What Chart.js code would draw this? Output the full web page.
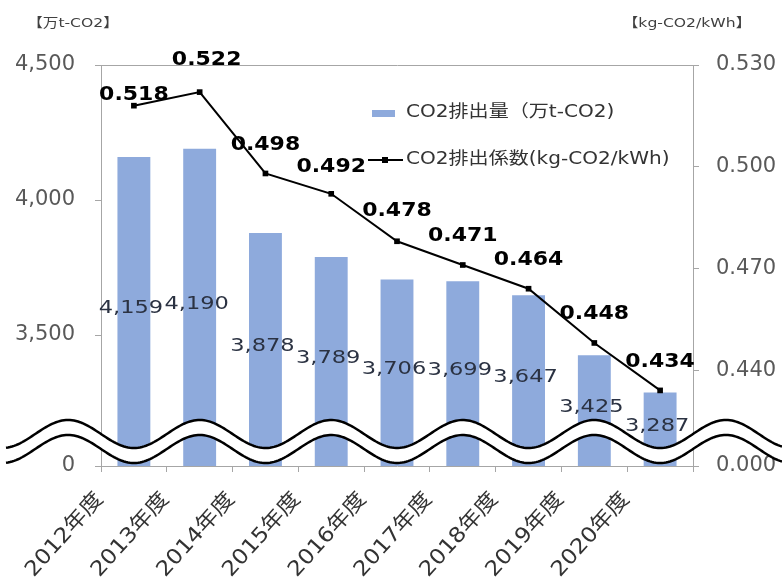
<!DOCTYPE html>
<html>
<head>
<meta charset="utf-8">
<script src="https://cdn.jsdelivr.net/npm/chart.js@4"></script>
<style>
  body { margin: 0; background: #fff; }
</style>
</head>
<body>
<canvas id="chart" width="782" height="582"></canvas>
<script>
// data
const categories = ['2012年度', '2013年度', '2014年度', '2015年度', '2016年度', '2017年度', '2018年度', '2019年度', '2020年度'];
const emissions = [4159, 4190, 3878, 3789, 3706, 3699, 3647, 3425, 3287];
const factors = [0.518, 0.522, 0.498, 0.492, 0.478, 0.471, 0.464, 0.448, 0.434];
const leftTicks = [3500, 4000, 4500];
const rightTicks = [0.440, 0.470, 0.500, 0.530];
// axis break: the bottom of each axis is labelled as zero
const leftBreakMin = 3015;
const rightBreakMin = 0.4117;

const FAMILY = '"DejaVu Sans", "Noto Sans CJK JP", sans-serif';
const AXIS = '#A6A6A6';
const BAR = '#8EAADC';

function drawText(ctx, txt, x, y, font, color, align, sx, rot) {
    ctx.save();
    ctx.translate(x, y);
    if (rot) ctx.rotate(rot);
    ctx.scale(sx, 1);
    ctx.font = font;
    ctx.fillStyle = color;
    ctx.textAlign = align;
    ctx.textBaseline = 'middle';
    ctx.fillText(txt, 0, 0);
    ctx.restore();
}

// label nudges for the line values (first two sit differently)
const lineLabelDx = [0, 7, 0, 0, 0, 0, 0, 0, 0];
const lineLabelDy = [-11, -32, -29, -27, -30, -29, -29, -29, -29];

const overlay = {
    id: 'overlay',
    afterDatasetsDraw(chart) {
        // wavy break band
        const { ctx, chartArea, scales } = chart;
        const x0 = scales.x.getPixelForValue(0);
        const period = (scales.x.getPixelForValue(1) - x0) * 2;
        const wy = (x, c) => c + 14 * Math.cos(2 * Math.PI * (x - x0) / period);
        const up = chartArea.bottom - 32, lo = chartArea.bottom - 17;
        ctx.save();
        ctx.beginPath();
        for (let x = 6; x <= 782; x += 2) ctx.lineTo(x, wy(x, up));
        for (let x = 782; x >= 6; x -= 2) ctx.lineTo(x, wy(x, lo));
        ctx.closePath();
        ctx.fillStyle = '#fff';
        ctx.fill();
        ctx.lineWidth = 2.5;
        ctx.strokeStyle = '#000';
        [up, lo].forEach(c => {
            ctx.beginPath();
            for (let x = 6; x <= 782; x += 2) ctx.lineTo(x, wy(x, c));
            ctx.stroke();
        });
        ctx.restore();
    },
    afterDraw(chart) {
        const ctx = chart.ctx;
        const xs = chart.scales.x;
        const yL = chart.scales.yLeft;
        const base = yL.getPixelForValue(leftBreakMin);
        // category labels, slanted
        categories.forEach((c, i) => {
            drawText(ctx, c, xs.getPixelForValue(i) - 34, chart.chartArea.bottom + 30,
                '21px ' + FAMILY, '#333', 'right', 1.1, -48 * Math.PI / 180);
        });
        // bar value labels, centred in the bar
        emissions.forEach((v, i) => {
            const top = yL.getPixelForValue(v);
            drawText(ctx, v.toLocaleString('en-US'), xs.getPixelForValue(i) - 3, (top + base) / 2 - 3,
                '18px ' + FAMILY, '#2B3242', 'center', 1.25);
        });
        // line value labels
        const pts = chart.getDatasetMeta(0).data;
        pts.forEach((p, i) => {
            drawText(ctx, factors[i].toFixed(3), p.x + lineLabelDx[i], p.y + lineLabelDy[i],
                'bold 20px ' + FAMILY, '#000', 'center', 1.1);
        });
        // legend
        const legFont = '17px ' + FAMILY;
        ctx.fillStyle = BAR;
        ctx.fillRect(372, 110, 23, 7);
        drawText(ctx, chart.data.datasets[1].label, 406, 113, legFont, '#333', 'left', 1.18);
        ctx.save();
        ctx.strokeStyle = '#000';
        ctx.lineWidth = 2;
        ctx.beginPath();
        ctx.moveTo(368, 160);
        ctx.lineTo(403, 160);
        ctx.stroke();
        ctx.fillStyle = '#000';
        ctx.fillRect(382, 157, 6, 6);
        ctx.restore();
        drawText(ctx, chart.data.datasets[0].label, 406, 160, legFont, '#333', 'left', 1.18);
        // axis unit titles
        drawText(ctx, '【万t-CO2】', 73, 24, '13px ' + FAMILY, '#404040', 'center', 1.2);
        drawText(ctx, '【kg-CO2/kWh】', 687, 24, '13px ' + FAMILY, '#404040', 'center', 1.2);
    }
};

const ctx = document.getElementById('chart').getContext('2d');

new Chart(ctx, {
    type: 'bar',
    data: {
        labels: categories,
        datasets: [{
            type: 'line',
            label: 'CO2排出係数(kg-CO2/kWh)',
            data: factors,
            yAxisID: 'yRight',
            borderColor: '#000',
            backgroundColor: '#000',
            borderWidth: 2,
            pointStyle: 'rect',
            pointRadius: 4,
            pointBackgroundColor: '#000',
            pointBorderWidth: 0,
            tension: 0,
            order: 0
        }, {
            label: 'CO2排出量（万t-CO2)',
            data: emissions,
            yAxisID: 'yLeft',
            backgroundColor: BAR,
            categoryPercentage: 1,
            barPercentage: 0.5,
            order: 1
        }]
    },
    options: {
        responsive: false,
        animation: false,
        layout: { padding: { top: 65, left: 0, right: 0, bottom: 0 } },
        plugins: {
            legend: { display: false },
            tooltip: { enabled: false }
        },
        scales: {
            x: {
                grid: { drawOnChartArea: false, tickColor: AXIS, tickLength: 6, offset: true },
                border: { color: AXIS, width: 1 },
                ticks: { display: false },
                afterFit(s) { s.height = 116; }
            },
            yLeft: {
                position: 'left',
                min: leftBreakMin,
                max: 4500,
                afterBuildTicks(s) {
                    s.ticks = [leftBreakMin, ...leftTicks].map(v => ({ value: v }));
                },
                ticks: {
                    padding: 20,
                    color: '#595959',
                    font: { family: FAMILY, size: 21 },
                    callback: v => v === leftBreakMin ? '0' : v.toLocaleString('en-US')
                },
                grid: {
                    color: c => (c.tick && c.tick.value === 4500) ? AXIS : 'rgba(0,0,0,0)',
                    tickColor: AXIS,
                    tickLength: 6
                },
                border: { color: AXIS, width: 1 },
                afterFit(s) { s.width = 101; }
            },
            yRight: {
                position: 'right',
                min: rightBreakMin,
                max: 0.530,
                afterBuildTicks(s) {
                    s.ticks = [rightBreakMin, ...rightTicks].map(v => ({ value: v }));
                },
                ticks: {
                    padding: 17,
                    color: '#595959',
                    font: { family: FAMILY, size: 21 },
                    callback: v => v === rightBreakMin ? '0.000' : v.toFixed(3)
                },
                grid: { drawOnChartArea: false, tickColor: AXIS, tickLength: 6 },
                border: { color: AXIS, width: 1 },
                afterFit(s) { s.width = 89; }
            }
        }
    },
    plugins: [overlay]
});
</script>
</body>
</html>
